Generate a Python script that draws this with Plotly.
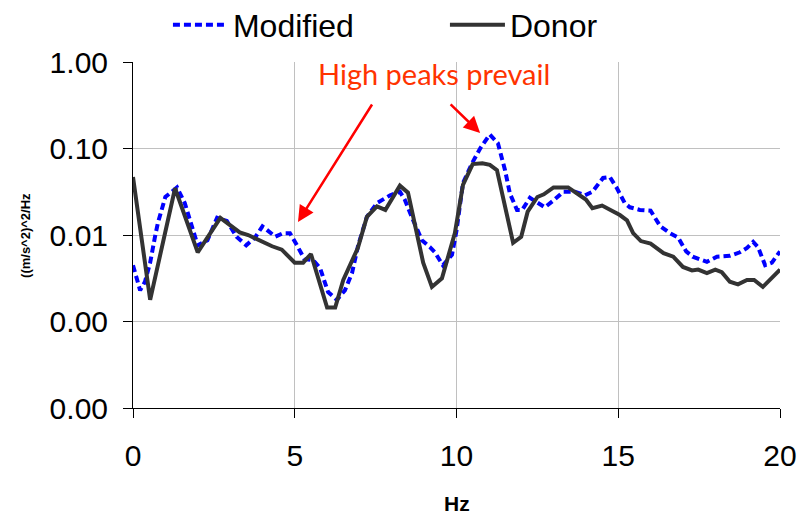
import plotly.graph_objects as go

# Donor series (Hz, PSD)
donor_hz = [0.0, 0.53, 1.3, 2.0, 2.7, 3.3, 3.56, 4.3, 4.6, 5.0, 5.26, 5.5, 6.0, 6.25, 6.5,
            6.95, 7.23, 7.54, 7.8, 8.25, 8.5, 8.97, 9.24, 9.55, 9.95, 10.2, 10.5, 10.8,
            11.03, 11.25, 11.75, 12.0, 12.2, 12.5, 12.7, 13.0, 13.45, 14.0, 14.2, 14.5,
            15.05, 15.27, 15.46, 15.7, 16.0, 16.4, 16.7, 17.0, 17.28, 17.47, 17.74, 18.0,
            18.2, 18.45, 18.7, 18.98, 19.2, 19.47, 20.0]
donor_psd = [0.0468, 0.00178, 0.0347, 0.00631, 0.0158, 0.0107, 0.0100, 0.00741, 0.00676,
             0.00479, 0.00479, 0.00603, 0.00145, 0.00145, 0.00302, 0.00708, 0.0162, 0.0214,
             0.0195, 0.0372, 0.0309, 0.00479, 0.00251, 0.00316, 0.0105, 0.0380, 0.0661,
             0.0676, 0.0646, 0.0562, 0.00813, 0.00955, 0.0186, 0.0275, 0.0295, 0.0355,
             0.0355, 0.0257, 0.0204, 0.0219, 0.0170, 0.0148, 0.0105, 0.00851, 0.00794,
             0.00617, 0.00562, 0.00427, 0.00389, 0.00398, 0.00363, 0.00398, 0.00372,
             0.00288, 0.00269, 0.00302, 0.00302, 0.00251, 0.00398]

# Modified series (Hz, PSD)
mod_hz = [0.0, 0.22, 0.37, 0.53, 0.68, 0.77, 1.0, 1.36, 1.6, 1.82, 2.0, 2.3, 2.6, 2.9, 3.2,
          3.5, 3.77, 4.0, 4.4, 4.64, 4.85, 5.07, 5.3, 5.57, 5.78, 6.03, 6.3, 6.55, 6.77,
          6.96, 7.23, 7.54, 7.95, 8.25, 8.4, 8.66, 8.93, 9.18, 9.33, 9.58, 9.86, 10.0,
          10.2, 10.48, 10.73, 11.03, 11.28, 11.5, 11.65, 11.87, 12.03, 12.27, 12.5, 12.73,
          13.0, 13.3, 13.66, 13.97, 14.2, 14.53, 14.74, 14.96, 15.2, 15.36, 15.67, 16.0,
          16.3, 16.6, 16.85, 17.1, 17.3, 17.74, 18.05, 18.45, 18.76, 18.98, 19.17, 19.32,
          19.54, 19.75, 20.0]
mod_psd = [0.00447, 0.00229, 0.00288, 0.00479, 0.00955, 0.0138, 0.0275, 0.0355, 0.0234,
           0.0126, 0.00759, 0.00871, 0.0158, 0.0145, 0.00955, 0.00759, 0.00933, 0.0126,
           0.00955, 0.0105, 0.0105, 0.00759, 0.00525, 0.00513, 0.00417, 0.00219, 0.00178,
           0.00229, 0.00363, 0.00759, 0.0162, 0.0234, 0.0288, 0.0316, 0.0257, 0.0148,
           0.00871, 0.00724, 0.00631, 0.00447, 0.00589, 0.0112, 0.0398, 0.0676, 0.100,
           0.145, 0.115, 0.0562, 0.0302, 0.0195, 0.0195, 0.0269, 0.0240, 0.0209, 0.0251,
           0.0316, 0.0316, 0.0288, 0.0316, 0.0457, 0.0468, 0.0347, 0.0234, 0.0209, 0.0195,
           0.0191, 0.0126, 0.0105, 0.00933, 0.00646, 0.00562, 0.0049, 0.00562, 0.00575,
           0.00631, 0.00708, 0.00832, 0.00724, 0.00447, 0.00479, 0.00646]

series_names = ["Modified", "Donor"]
x_ticks = [0, 5, 10, 15, 20]
y_ticks = [1, 0.1, 0.01, 0.001, 0.0001]
annotation_text = "High peaks prevail"

fig = go.Figure()
fig.add_trace(go.Scatter(x=mod_hz, y=mod_psd, mode="lines", name=series_names[0],
                         line=dict(color="#0000ff", width=4, dash="7px,4px")))
fig.add_trace(go.Scatter(x=donor_hz, y=donor_psd, mode="lines", name=series_names[1],
                         line=dict(color="#333333", width=4)))

tickfont = dict(family="Liberation Sans, Arial, sans-serif", size=30, color="#000000")

# the page body has an 8px margin, so the figure is 8px smaller and margins shifted
fig.update_layout(
    width=802, height=507,
    margin=dict(l=125, r=30, t=54, b=107, autoexpand=False),
    paper_bgcolor="white", plot_bgcolor="white",
    showlegend=True,
    legend=dict(orientation="h", x=0.054, y=1.107, xanchor="left", yanchor="middle",
                font=dict(family="Liberation Sans, Arial, sans-serif", size=32, color="#000000"),
                itemwidth=55, entrywidth=207, entrywidthmode="pixels",
                bgcolor="rgba(0,0,0,0)"),
    xaxis=dict(range=[0, 20], tickvals=x_ticks, showgrid=True, gridcolor="#c0c0c0",
               gridwidth=1, showline=True, linecolor="#000000", linewidth=1,
               ticks="outside", ticklen=9, tickcolor="#000000", tickfont=tickfont,
               ticklabelstandoff=12, zeroline=False),
    yaxis=dict(type="log", range=[-4, 0], tickvals=y_ticks, tickformat=".2f",
               showgrid=True, gridcolor="#c0c0c0", gridwidth=1, showline=True,
               linecolor="#000000", linewidth=1, ticks="outside", ticklen=9,
               tickcolor="#000000", tickfont=tickfont, ticklabelstandoff=9, zeroline=False),
)

fig.add_annotation(text="((m/s^2)^2/Hz", xref="paper", yref="paper", x=-0.167, y=0.5,
                   textangle=-90, showarrow=False, xanchor="center", yanchor="middle",
                   font=dict(family="Liberation Sans, Arial, sans-serif", size=13,
                             color="#000000", weight="bold"))
fig.add_annotation(text="Hz", xref="paper", yref="paper", x=0.5, y=-0.277,
                   showarrow=False, xanchor="center", yanchor="middle",
                   font=dict(family="Liberation Sans, Arial, sans-serif", size=21,
                             color="#000000", weight="bold"))
fig.add_annotation(text=annotation_text, xref="paper", yref="paper", x=0.283, y=0.968,
                   showarrow=False, xanchor="left", yanchor="middle",
                   font=dict(family="Lato, Carlito, sans-serif", size=29, color="#ff3300"))
# arrows (tip in data coords; log axis uses log10 units)
fig.add_annotation(x=5.1, y=-1.85, xref="x", yref="y", ax=75, ay=-119, text="",
                   showarrow=True, arrowhead=2, arrowsize=1.3, arrowwidth=2.5,
                   arrowcolor="#ff0000", standoff=0)
fig.add_annotation(x=10.73, y=-0.82, xref="x", yref="y", ax=-31, ay=-30, text="",
                   showarrow=True, arrowhead=2, arrowsize=1.3, arrowwidth=2.5,
                   arrowcolor="#ff0000", standoff=0)

fig.write_html("out.html")
